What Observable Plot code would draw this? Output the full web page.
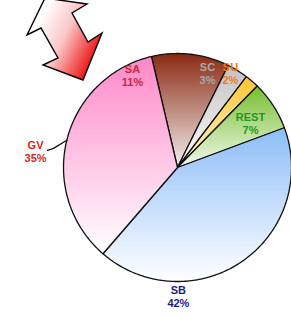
<!DOCTYPE html>
<html><head><meta charset="utf-8">
<script src="https://cdn.jsdelivr.net/npm/d3@7"></script>
<script src="https://cdn.jsdelivr.net/npm/@observablehq/plot@0.6"></script>
<style>
html,body{margin:0;padding:0;background:#fff;}
#wrap{position:relative;width:291px;height:316px;overflow:hidden;background:#fff;}
#arrow{position:absolute;left:0;top:0;}
</style></head><body>
<div id="wrap">
<svg id="arrow" width="112" height="86" viewBox="0 0 112 86">
  <defs><linearGradient id="ag" x1="0.15" y1="0.3" x2="0.9" y2="0.7">
    <stop offset="0" stop-color="#ffffff"/><stop offset="0.45" stop-color="#fbc8c8"/><stop offset="1" stop-color="#ee1818"/>
  </linearGradient></defs>
  <polygon points="27,35 45,-2 87,4 72,13 88,42 102,33 83,80 43,65 58,58 41,28" fill="url(#ag)" stroke="#000" stroke-width="1.4" stroke-linejoin="miter"/>
</svg>
</div>
<script>
// data
const categories = ["SA", "SC", "SU", "REST", "SB", "GV"];
const shares = [11, 3, 2, 7, 42, 35];
const pctLabels = ["11%", "3%", "2%", "7%", "42%", "35%"];

// styles (gradient top / bottom per slice, label colours)
const gradTop = ["#8a2a12", "#c2c2c2", "#ffc52e", "#76be2e", "#8cbdf8", "#ff88c8"];
const gradBottom = ["#f4f0f0", "#ffffff", "#fff6dc", "#f2f9ec", "#ffffff", "#ffffff"];
const labelColors = ["#c4283c", "#a9a9a9", "#f07818", "#1e9a1e", "#1c1c80", "#d42424"];
// label layout: [angle in degrees clockwise from top, radius as fraction of pie radius]
const labelLayout = [[-26.1, 0.898], [17.7, 0.866], [29.4, 0.946], [58.9, 0.748], [179.6, 1.13], [276.4, 1.253]];

const startDeg = -13.2;
const rad = Math.PI / 180;
const arcs = d3.pie().sort(null).value(d => d)
  .startAngle(startDeg * rad).endAngle(startDeg * rad + 2 * Math.PI)(shares);

const slices = arcs.map(a => {
  const pts = [{x: 0, y: 0}];
  const n = Math.max(2, Math.ceil((a.endAngle - a.startAngle) / rad));
  for (let k = 0; k <= n; k++) {
    const t = a.startAngle + (a.endAngle - a.startAngle) * k / n;
    pts.push({x: Math.sin(t), y: Math.cos(t)});
  }
  pts.push({x: 0, y: 0});
  return pts;
});

const labelData = categories.map((c, i) => {
  const [ang, r] = labelLayout[i];
  return {x: r * Math.sin(ang * rad), y: r * Math.cos(ang * rad), text: c + "\n" + pctLabels[i], color: labelColors[i]};
});

// leader line for GV: from slice edge at mid-angle to label
const gvIdx = categories.indexOf("GV");
const gvMid = (arcs[gvIdx].startAngle + arcs[gvIdx].endAngle) / 2;
const gvLab = labelData[gvIdx];
const leader = [
  {x: Math.sin(gvMid), y: Math.cos(gvMid)},
  {x: gvLab.x + 0.158, y: gvLab.y + 0.028},
  {x: gvLab.x + 0.105, y: gvLab.y + 0.01}
];

const defsMark = () => {
  const ns = "http://www.w3.org/2000/svg";
  const defs = document.createElementNS(ns, "defs");
  gradTop.forEach((top, i) => {
    const lg = document.createElementNS(ns, "linearGradient");
    lg.setAttribute("id", "g" + i);
    lg.setAttribute("x1", "0"); lg.setAttribute("y1", "0");
    lg.setAttribute("x2", "0"); lg.setAttribute("y2", "1");
    [[0, top], [1, gradBottom[i]]].forEach(([o, c]) => {
      const s = document.createElementNS(ns, "stop");
      s.setAttribute("offset", o); s.setAttribute("stop-color", c);
      lg.appendChild(s);
    });
    defs.appendChild(lg);
  });
  return defs;
};

const R = 114, cx = 177, cy = 167, W = 291, H = 316;
const chart = Plot.plot({
  width: W, height: H, margin: 0,
  style: {background: "#fff"},
  x: {domain: [-cx / R, (W - cx) / R], axis: null},
  y: {domain: [-(H - cy) / R, cy / R], axis: null},
  color: {type: "identity"},
  marks: [
    defsMark,
    ...slices.map((s, i) => Plot.line(s, {x: "x", y: "y", fill: `url(#g${i})`, stroke: "#111", strokeWidth: 1.3, strokeLinejoin: "round"})),
    Plot.line(leader, {x: "x", y: "y", stroke: "#111", strokeWidth: 1.3}),
    Plot.text(labelData, {x: "x", y: "y", text: "text", fill: "color", fontFamily: "Liberation Sans, Arial, sans-serif", fontSize: 11, fontWeight: "bold", lineHeight: 1.2})
  ]
});
document.getElementById("wrap").insertBefore(chart, document.getElementById("arrow"));
</script>
</body></html>
